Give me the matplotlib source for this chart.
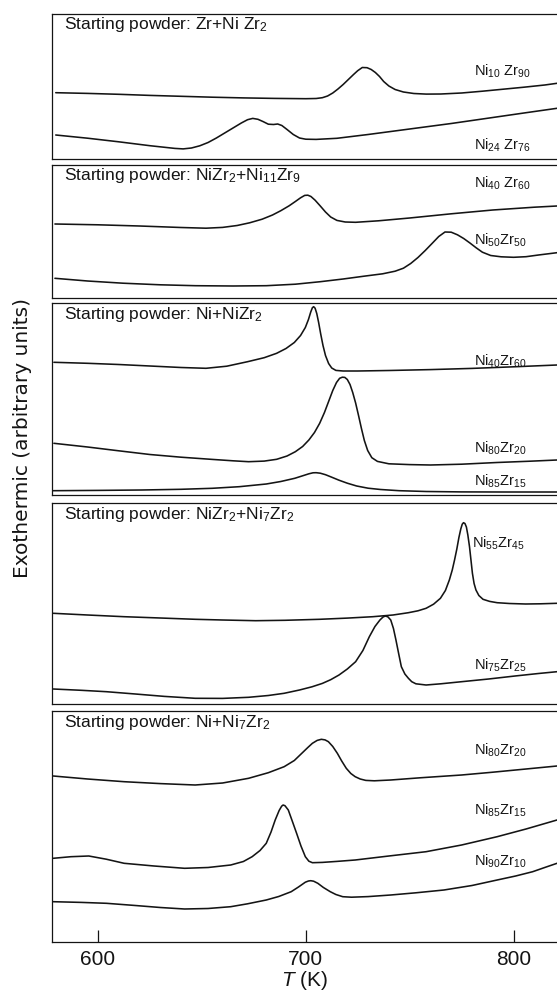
import numpy as np
import matplotlib
matplotlib.use('Agg')
import matplotlib.pyplot as plt

plt.rcParams['font.family'] = ['Liberation Sans', 'DejaVu Sans']
plt.rcParams['mathtext.fontset'] = 'custom'
plt.rcParams['mathtext.rm'] = 'Liberation Sans'
plt.rcParams['mathtext.it'] = 'Liberation Sans:italic'
plt.rcParams['mathtext.bf'] = 'Liberation Sans:bold'

# ---------------- data (T in K, signal in arbitrary units) ----------------
# Panel 1: Zr + NiZr2
p1_ni10_T = [579.7, 595, 610, 625, 640, 655, 670, 685, 700, 705, 708, 710.5, 713, 715.5, 718,
             720.5, 723, 725, 727.2, 729.5, 731.5, 733.5, 735.5, 737.5, 740, 743, 747, 752,
             758, 765, 775, 785, 795, 805, 815, 820.9]
p1_ni10_y = [66.3, 65.6, 64.7, 63.6, 62.7, 61.8, 61.1, 60.6, 60.3, 60.5, 61.3, 63.0, 66.0, 70.0,
             74.5, 79.5, 84.5, 88.3, 91.5, 91.3, 89.5, 86.5, 82.5, 77.5, 73.0, 69.5, 67.0, 65.5,
             64.9, 65.0, 66.0, 67.8, 69.8, 71.8, 74.0, 75.7]
p1_ni24_T = [579.7, 595, 610, 625, 637, 641, 645, 649, 653, 657, 661, 665, 669, 672, 674.5,
             677, 679.5, 682, 684.5, 686.5, 688.5, 691, 694, 697, 700, 705, 715, 730, 750,
             770, 790, 805, 820.9]
p1_ni24_y = [24.0, 20.8, 17.2, 13.3, 10.6, 10.1, 11.0, 13.2, 16.5, 21.0, 26.0, 31.0, 36.0, 39.3,
             40.6, 39.7, 37.4, 34.8, 34.5, 35.0, 33.5, 29.5, 24.5, 21.0, 19.8, 19.6, 20.7, 24.5,
             30.0, 35.5, 41.5, 46.0, 50.7]

# Panel 2: NiZr2 + Ni11Zr9
p2_ni40_T = [579.3, 600, 620, 640, 652, 660, 667, 673, 679, 684, 688, 692, 695, 697.5, 699.5,
             701, 702.5, 704.5, 707, 709.5, 712, 715, 719, 724, 735, 750, 770, 790, 810, 820.9]
p2_ni40_y = [74.0, 73.2, 72.0, 70.5, 69.8, 70.6, 72.5, 75.2, 78.8, 83.0, 87.3, 92.2, 96.5, 100.2,
             102.6, 102.8, 101.5, 97.8, 92.0, 86.0, 81.0, 77.6, 76.0, 75.7, 77.2, 80.0, 84.2,
             88.0, 90.8, 92.0]
p2_ni50_T = [579.3, 595, 612, 630, 647, 665, 681, 695, 707, 718, 728, 737, 743, 747, 750.5,
             754, 757.5, 761, 764, 767, 770, 773, 776, 779, 782, 785, 789, 794, 800, 806, 812,
             820.9]
p2_ni50_y = [19.7, 17.0, 14.8, 13.2, 12.3, 12.0, 12.3, 13.8, 16.3, 19.0, 21.8, 24.2, 26.8, 29.8,
             34.5, 40.5, 47.5, 55.0, 61.5, 66.0, 65.8, 63.2, 59.5, 55.0, 50.2, 45.8, 42.5, 41.2,
             40.7, 41.3, 43.0, 45.3]

# Panel 3: Ni + NiZr2
p3_ni40_T = [578.8, 595, 610, 625, 640, 652, 662, 672, 680, 686, 690.5, 694.5, 697.5, 699.8,
             701.3, 702.4, 703.2, 703.8, 704.5, 705.3, 706.2, 707.2, 708.3, 709.5, 711, 712.5,
             714.5, 718, 725, 740, 760, 780, 800, 820.9]
p3_ni40_y = [132.7, 131.7, 130.5, 129.0, 127.5, 126.7, 128.8, 133.3, 137.3, 141.7, 146.5, 152.5,
             159.5, 167.5, 175.5, 183.0, 187.3, 188.3, 186.8, 181.5, 172.5, 161.0, 149.5, 139.5,
             131.5, 127.0, 124.6, 124.0, 124.0, 124.5, 125.4, 126.6, 128.2, 130.0]
p3_ni80_T = [578.8, 595, 610, 625, 640, 655, 665, 672.5, 680, 686, 691, 695, 698.5, 701.5,
             704.2, 706.7, 709, 711, 713, 714.8, 716.3, 717.6, 718.8, 720, 721.3, 722.6, 724,
             725.4, 726.8, 728.2, 729.8, 731.8, 734.5, 740, 750, 760, 775, 792, 808, 820.9]
p3_ni80_y = [51.7, 48.0, 44.2, 40.5, 37.8, 35.6, 34.2, 33.3, 33.9, 35.7, 39.0, 43.3, 48.5, 55.0,
             62.5, 71.7, 82.5, 93.5, 104.5, 112.5, 116.7, 117.8, 117.6, 115.5, 110.5, 102.5,
             92.0, 79.5, 66.5, 54.5, 44.5, 37.3, 33.6, 31.2, 30.4, 30.0, 30.8, 32.5, 33.8, 35.0]
p3_ni85_T = [578.5, 600, 621, 640, 655, 668, 681, 688, 694.7, 698.5, 701.5, 703.5, 705, 707,
             709.5, 712.5, 716, 720, 724.5, 730, 736, 745, 758, 775, 795, 820.9]
p3_ni85_y = [4.3, 4.6, 5.0, 5.7, 6.7, 8.3, 11.0, 13.5, 16.7, 19.2, 21.2, 22.2, 22.3, 21.8, 20.3,
             17.8, 14.8, 11.8, 9.0, 6.8, 5.5, 4.3, 3.5, 3.1, 3.0, 3.0]

# Panel 4: NiZr2 + Ni7Zr2
p4_ni55_T = [578.5, 595, 612.6, 630, 646.8, 660, 675.9, 690, 706.7, 720, 732.3, 742, 749.4,
             754, 757.9, 761.5, 764.8, 767.2, 769.1, 770.5, 771.6, 772.7, 773.7, 774.6, 775.3,
             775.9, 776.6, 777.3, 778.0, 778.8, 779.5, 780.2, 781.0, 781.9, 783.3, 785.3, 788.5,
             792.1, 798, 805.8, 813, 820.9]
p4_ni55_y = [90.7, 89.0, 87.3, 86.0, 84.7, 84.0, 83.3, 83.7, 84.7, 85.9, 87.3, 89.0, 91.3, 93.2,
             95.7, 99.8, 105.7, 113.5, 124.0, 134.0, 144.0, 155.0, 166.5, 175.0, 179.8, 181.3,
             180.5, 177.0, 169.0, 157.3, 144.0, 130.7, 120.5, 114.0, 108.5, 104.7, 102.6, 101.3,
             100.5, 100.0, 100.2, 100.7]
p4_ni75_T = [578.5, 592, 604.1, 618, 632, 646.8, 660, 672.5, 682, 689.6, 697, 703, 708, 712,
             716, 720, 724, 727.5, 730.6, 733.3, 735.7, 737.2, 738.3, 739.5, 740.9, 742.2, 743.4,
             744.7, 746, 747.7, 749.4, 751, 753, 757.9, 765, 775, 788, 800.7, 812, 820.9]
p4_ni75_y = [15.0, 13.7, 12.3, 10.0, 7.6, 5.7, 5.6, 6.7, 8.5, 10.7, 14.0, 17.2, 20.6, 24.3, 29.0,
             35.0, 42.3, 53.5, 67.3, 77.5, 84.0, 87.0, 88.0, 87.2, 84.0, 75.5, 64.0, 50.5, 37.3,
             30.0, 25.7, 22.3, 20.2, 19.0, 20.2, 22.3, 25.0, 28.0, 30.5, 32.3]

# Panel 5: Ni + Ni7Zr2
p5_ni80_T = [578.5, 595, 612.6, 630, 646.8, 660, 672.5, 682, 689.6, 694.5, 698.1, 701, 703.2,
             705.5, 707.5, 709.3, 710.9, 713, 715.2, 717.3, 719.5, 721.7, 723.8, 726.2, 728.9,
             733, 740.9, 755, 775, 790, 805, 820.9]
p5_ni80_y = [166.0, 163.0, 160.3, 158.4, 157.0, 159.0, 163.7, 169.3, 175.3, 181.5, 188.7, 194.5,
             198.7, 201.6, 202.7, 202.1, 200.3, 195.5, 188.7, 181.0, 173.7, 168.5, 165.3, 163.0,
             161.6, 161.2, 162.0, 164.2, 167.0, 169.8, 172.8, 176.0]
p5_ni85_T = [578.5, 587, 595.6, 604, 612.6, 627, 641.7, 653, 663.9, 670, 674.2, 678, 681.0,
             683.3, 685.3, 687.2, 688.4, 689.1, 690, 691.6, 693.5, 695.6, 697.7, 699.8, 701.5,
             703.2, 708, 715, 723.8, 740, 757.9, 775, 792.1, 806, 820.9]
p5_ni85_y = [83.7, 85.3, 86.0, 82.8, 78.7, 76.0, 73.7, 74.5, 77.0, 80.5, 85.3, 91.5, 98.7, 110.0,
             122.0, 131.5, 135.8, 137.0, 136.3, 132.0, 121.0, 108.7, 96.0, 85.3, 80.8, 79.3, 79.6,
             80.6, 82.0, 86.0, 90.3, 97.0, 105.3, 113.0, 122.0]
p5_ni90_T = [578.5, 592, 604.1, 618, 630, 641.7, 653, 663.9, 672, 681.0, 687, 693.0, 696.5,
             699.8, 701.3, 702.4, 703.8, 705.8, 708.5, 711.8, 714.5, 717.8, 722, 730, 740.9, 753,
             766.5, 780, 792.1, 801, 809.2, 815, 820.9]
p5_ni90_y = [40.3, 39.6, 38.7, 36.5, 34.5, 33.0, 33.5, 35.3, 38.2, 42.0, 45.5, 50.3, 55.0, 59.8,
             61.0, 61.3, 60.8, 58.7, 54.5, 50.3, 47.5, 45.3, 44.8, 45.4, 47.0, 49.2, 52.0, 56.5,
             62.0, 66.0, 70.3, 74.5, 78.7]

panel_titles = [
    r'Starting powder: Zr+Ni Zr$_2$',
    r'Starting powder: NiZr$_2$+Ni$_{11}$Zr$_9$',
    r'Starting powder: Ni+NiZr$_2$',
    r'Starting powder: NiZr$_2$+Ni$_7$Zr$_2$',
    r'Starting powder: Ni+Ni$_7$Zr$_2$',
]
panel_curves = [
    [(p1_ni10_T, p1_ni10_y, r'Ni$_{10}$ Zr$_{90}$'), (p1_ni24_T, p1_ni24_y, r'Ni$_{24}$ Zr$_{76}$')],
    [(p2_ni40_T, p2_ni40_y, r'Ni$_{40}$ Zr$_{60}$'), (p2_ni50_T, p2_ni50_y, r'Ni$_{50}$Zr$_{50}$')],
    [(p3_ni40_T, p3_ni40_y, r'Ni$_{40}$Zr$_{60}$'), (p3_ni80_T, p3_ni80_y, r'Ni$_{80}$Zr$_{20}$'),
     (p3_ni85_T, p3_ni85_y, r'Ni$_{85}$Zr$_{15}$')],
    [(p4_ni55_T, p4_ni55_y, r'Ni$_{55}$Zr$_{45}$'), (p4_ni75_T, p4_ni75_y, r'Ni$_{75}$Zr$_{25}$')],
    [(p5_ni80_T, p5_ni80_y, r'Ni$_{80}$Zr$_{20}$'), (p5_ni85_T, p5_ni85_y, r'Ni$_{85}$Zr$_{15}$'),
     (p5_ni90_T, p5_ni90_y, r'Ni$_{90}$Zr$_{10}$')],
]
x_ticks = [600, 700, 800]

# ---------------- layout ----------------
W, H = 557, 999
fig = plt.figure(figsize=(W / 100, H / 100), dpi=100)
panel_px = [(13.5, 159), (165, 298), (303, 495), (503, 704), (711, 942)]
label_y = [[87.3, 14.0], [114.7, 58.0], [133.3, 46.7, 13.3], [160.7, 39.0], [192.0, 132.0, 81.0]]
label_x = [[781, 781], [781, 781], [781, 781, 781], [780.2, 781], [781, 781, 781]]
left_px = 52
xlim = (577.9, 820.9)
ink = '#141414'

for i, (top, bot) in enumerate(panel_px):
    ax = fig.add_axes([left_px / W, 1 - bot / H, 1 - left_px / W, (bot - top) / H])
    ax.set_xlim(*xlim)
    ax.set_ylim(0, bot - top)
    for side in ['top', 'bottom', 'left']:
        ax.spines[side].set_linewidth(0.9)
        ax.spines[side].set_color(ink)
    ax.spines['right'].set_visible(False)
    ax.set_yticks([])
    ax.patch.set_alpha(0)
    for (T, y, lab), ly, lx in zip(panel_curves[i], label_y[i], label_x[i]):
        ax.plot(T, y, color=ink, lw=1.15, solid_joinstyle='round', solid_capstyle='round',
                clip_on=False)
        ax.text(lx, ly, lab, fontsize=10.5, color=ink, ha='left', va='center')
    ax.text(583.6, (bot - top) - 11, panel_titles[i], fontsize=12.5, color=ink,
            ha='left', va='center')
    if i < 4:
        ax.set_xticks([])
    else:
        ax.set_xticks(x_ticks)
        ax.set_xticklabels([str(t) for t in x_ticks])
        ax.tick_params(axis='x', direction='in', length=9, width=0.9, colors=ink,
                       labelsize=15, pad=6)
        ax.set_xlabel(r'$T$ (K)', fontsize=15, color=ink, labelpad=0)

fig.text(23 / W, 1 - 438 / H, 'Exothermic (arbitrary units)', rotation=90,
         fontsize=14.5, color=ink, ha='center', va='center', family=['DejaVu Sans'])

fig.savefig('out.png', dpi=100, facecolor='white')
